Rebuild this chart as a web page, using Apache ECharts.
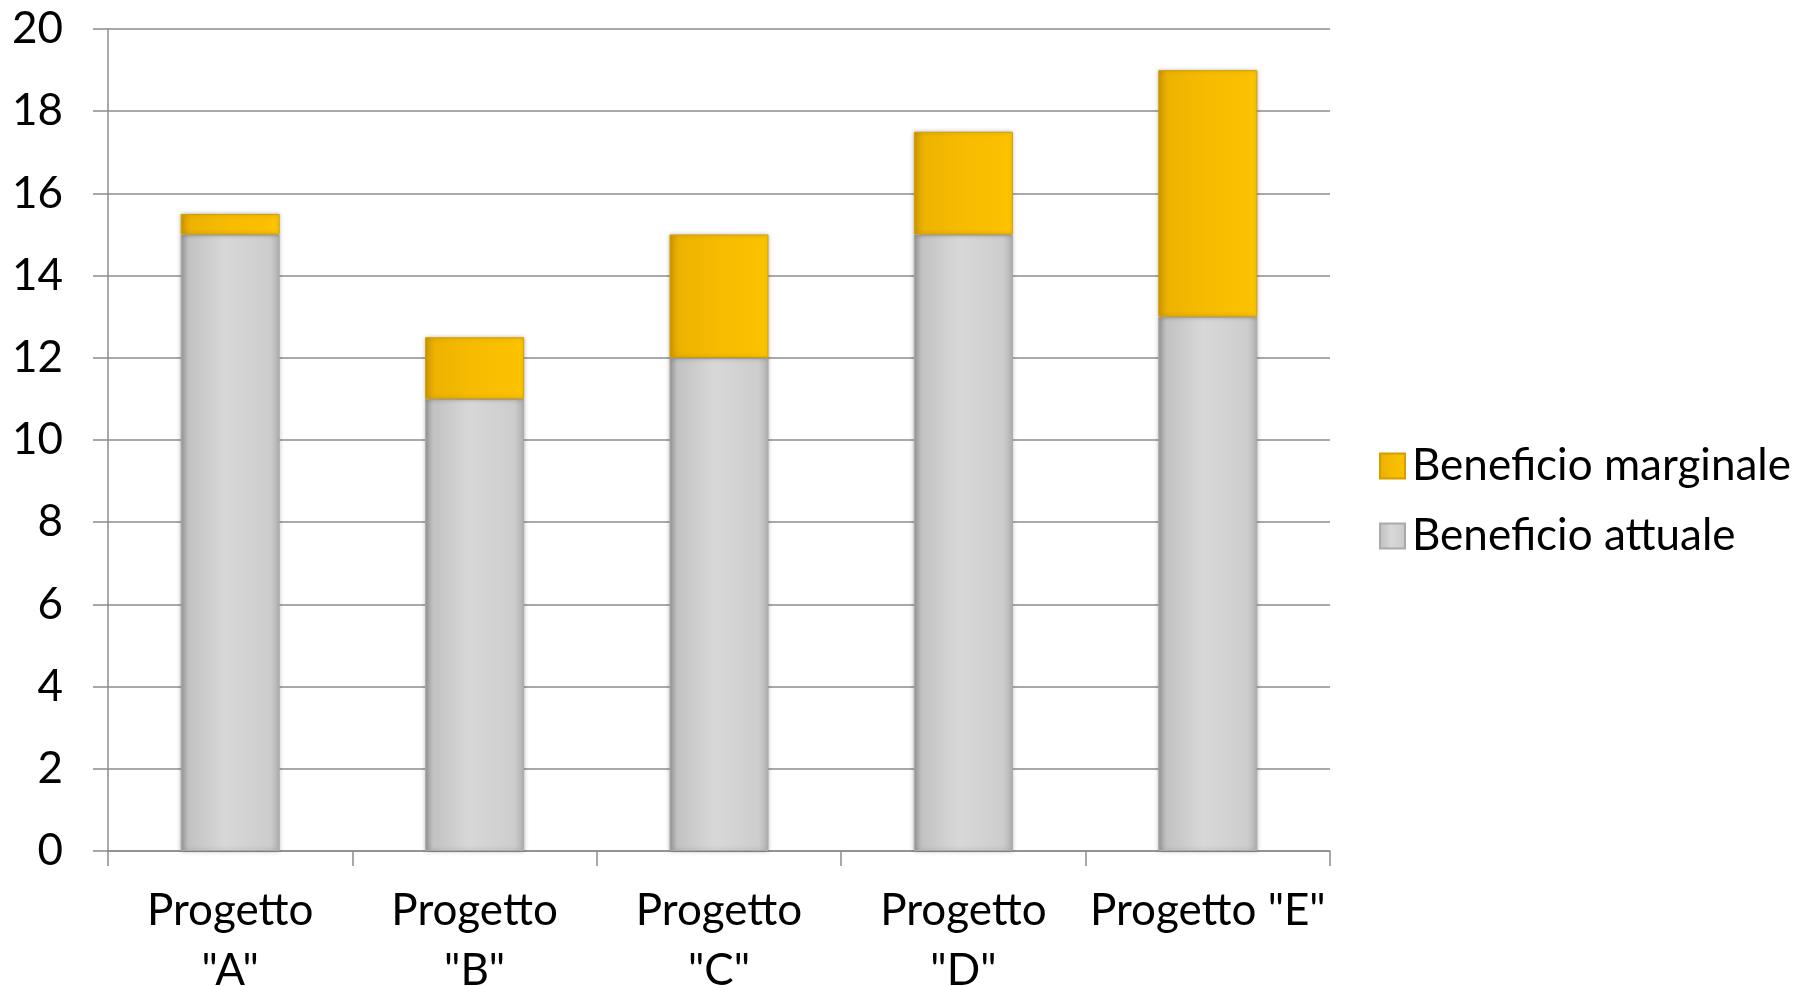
<!DOCTYPE html>
<html>
<head>
<meta charset="utf-8">
<script src="https://cdn.jsdelivr.net/npm/echarts@6/dist/echarts.min.js"></script>
<style>
html,body{margin:0;padding:0;background:#fff;}
#chart{width:1804px;height:986px;}
</style>
</head>
<body>
<div id="chart"></div>
<script>
const categories = ['Progetto\n"A"', 'Progetto\n"B"', 'Progetto\n"C"', 'Progetto\n"D"', 'Progetto "E"'];
const beneficioAttuale = [15, 11, 12, 15, 13];
const beneficioMarginale = [0.5, 1.5, 3, 2.5, 6];
const yTicks = { min: 0, max: 20, interval: 2 };

const FONT = 'Lato, "Open Sans", sans-serif';

const grayGrad = new echarts.graphic.LinearGradient(0, 0, 1, 0, [
  { offset: 0, color: '#969696' },
  { offset: 0.08, color: '#c2c2c2' },
  { offset: 0.45, color: '#d8d8d8' },
  { offset: 0.9, color: '#cdcdcd' },
  { offset: 1, color: '#b4b4b4' }
]);
const yellowGrad = new echarts.graphic.LinearGradient(0, 0, 1, 0, [
  { offset: 0, color: '#cf9800' },
  { offset: 0.1, color: '#edb300' },
  { offset: 0.5, color: '#f7bc00' },
  { offset: 0.9, color: '#fbc000' },
  { offset: 1, color: '#ffc800' }
]);

const chart = echarts.init(document.getElementById('chart'));
chart.setOption({
  backgroundColor: '#ffffff',
  animation: false,
  grid: { left: 108, right: 474, top: 29, bottom: 135, containLabel: false, outerBoundsMode: 'none' },
  legend: {
    orient: 'vertical',
    left: 1374,
    top: 437,
    itemWidth: 25,
    itemHeight: 25,
    itemGap: 22,
    icon: 'rect',
    data: ['Beneficio marginale', 'Beneficio attuale'],
    textStyle: { fontFamily: FONT, fontSize: 44, color: '#000', lineHeight: 48, padding: [0, 0, 0, 2] }
  },
  xAxis: {
    type: 'category',
    data: categories,
    boundaryGap: true,
    axisLine: { show: true, lineStyle: { color: '#8c8c8c', width: 1.5 } },
    axisTick: { show: true, length: 15, alignWithLabel: false, lineStyle: { color: '#8c8c8c', width: 1.5 } },
    axisLabel: { fontFamily: FONT, fontSize: 44, color: '#000', lineHeight: 60, margin: 30, interval: 0 }
  },
  yAxis: {
    type: 'value',
    min: yTicks.min,
    max: yTicks.max,
    interval: yTicks.interval,
    axisLine: { show: true, lineStyle: { color: '#8c8c8c', width: 1.5 } },
    axisTick: { show: true, length: 15, lineStyle: { color: '#8c8c8c', width: 1.5 } },
    axisLabel: { fontFamily: FONT, fontSize: 44, color: '#000', margin: 45 },
    splitLine: { show: true, lineStyle: { color: '#8c8c8c', width: 1.5 } }
  },
  series: [
    {
      name: 'Beneficio attuale',
      type: 'bar',
      stack: 'tot',
      barWidth: 99,
      data: beneficioAttuale,
      itemStyle: { color: grayGrad, borderColor: '#aaaaaa', borderWidth: 1, shadowColor: 'rgba(0,0,0,0.25)', shadowBlur: 4 }
    },
    {
      name: 'Beneficio marginale',
      type: 'bar',
      stack: 'tot',
      barWidth: 99,
      data: beneficioMarginale,
      itemStyle: { color: yellowGrad, borderColor: '#d39e00', borderWidth: 1, shadowColor: 'rgba(0,0,0,0.25)', shadowBlur: 4 }
    }
  ]
});
</script>
</body>
</html>
